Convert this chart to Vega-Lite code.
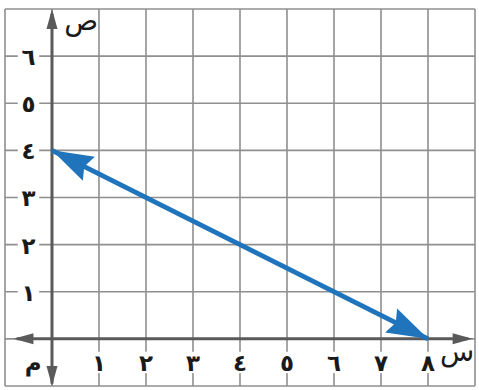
{
  "$schema": "https://vega.github.io/schema/vega-lite/v6.json",
  "width": 479,
  "height": 390,
  "autosize": {"type": "fit", "contains": "padding"},
  "padding": 0,
  "background": "white",
  "config": {"view": {"stroke": null}},
  "datasets": {
    "grid": [
      {"x": -1, "x2": -1, "y": -1, "y2": 7},
      {"x": 0, "x2": 0, "y": -1, "y2": 7},
      {"x": 1, "x2": 1, "y": -1, "y2": 7},
      {"x": 2, "x2": 2, "y": -1, "y2": 7},
      {"x": 3, "x2": 3, "y": -1, "y2": 7},
      {"x": 4, "x2": 4, "y": -1, "y2": 7},
      {"x": 5, "x2": 5, "y": -1, "y2": 7},
      {"x": 6, "x2": 6, "y": -1, "y2": 7},
      {"x": 7, "x2": 7, "y": -1, "y2": 7},
      {"x": 8, "x2": 8, "y": -1, "y2": 7},
      {"x": 9, "x2": 9, "y": -1, "y2": 7},
      {"x": -1, "x2": 9, "y": -1, "y2": -1},
      {"x": -1, "x2": 9, "y": 0, "y2": 0},
      {"x": -1, "x2": 9, "y": 1, "y2": 1},
      {"x": -1, "x2": 9, "y": 2, "y2": 2},
      {"x": -1, "x2": 9, "y": 3, "y2": 3},
      {"x": -1, "x2": 9, "y": 4, "y2": 4},
      {"x": -1, "x2": 9, "y": 5, "y2": 5},
      {"x": -1, "x2": 9, "y": 6, "y2": 6},
      {"x": -1, "x2": 9, "y": 7, "y2": 7}
    ],
    "labels": [
      {"x": -0.5, "y": 1, "t": "١"},
      {"x": -0.5, "y": 2, "t": "٢"},
      {"x": -0.5, "y": 3, "t": "٣"},
      {"x": -0.5, "y": 4, "t": "٤"},
      {"x": -0.5, "y": 5, "t": "٥"},
      {"x": -0.5, "y": 6, "t": "٦"},
      {"x": -0.4, "y": -0.5, "t": "م"},
      {"x": 1, "y": -0.5, "t": "١"},
      {"x": 2, "y": -0.5, "t": "٢"},
      {"x": 3, "y": -0.5, "t": "٣"},
      {"x": 4, "y": -0.5, "t": "٤"},
      {"x": 5, "y": -0.5, "t": "٥"},
      {"x": 6, "y": -0.5, "t": "٦"},
      {"x": 7, "y": -0.5, "t": "٧"},
      {"x": 8, "y": -0.5, "t": "٨"}
    ],
    "axes": [
      {"x": -0.75, "x2": 8.85, "y": 0, "y2": 0},
      {"x": 0, "x2": 0, "y": -0.95, "y2": 6.9}
    ],
    "axisArrows": [
      {"x": -0.82, "y": 0, "a": 180},
      {"x": 8.95, "y": 0, "a": 0},
      {"x": 0, "y": 7.0, "a": 270},
      {"x": 0, "y": -1.0, "a": 90}
    ],
    "line": [
      {"x": 0, "y": 4},
      {"x": 8, "y": 0}
    ],
    "lineArrows": [
      {"x": 0, "y": 4, "a": 206.6},
      {"x": 8, "y": 0, "a": 26.6}
    ],
    "names": [
      {"x": 0.62, "y": 6.72, "t": "ص"},
      {"x": 8.62, "y": -0.3, "t": "س"}
    ]
  },
  "encoding": {
    "x": {"field": "x", "type": "quantitative", "scale": {"domain": [-1.106, 9.085], "nice": false, "zero": false}, "axis": null},
    "y": {"field": "y", "type": "quantitative", "scale": {"domain": [-1.085, 7.191], "nice": false, "zero": false}, "axis": null}
  },
  "layer": [
    {
      "data": {"name": "grid"},
      "mark": {"type": "rule", "color": "#8f8f8f", "strokeWidth": 1.6},
      "encoding": {"x2": {"field": "x2"}, "y2": {"field": "y2"}}
    },
    {
      "data": {"name": "labels"},
      "mark": {"type": "point", "shape": "square", "filled": true, "color": "white", "opacity": 1, "size": 460},
      "encoding": {}
    },
    {
      "data": {"name": "labels"},
      "mark": {"type": "text", "font": "DejaVu Sans", "fontSize": 23, "fontWeight": "bold", "color": "#1a1a1a", "baseline": "middle", "align": "center", "dy": 2},
      "encoding": {"text": {"field": "t"}}
    },
    {
      "data": {"name": "axes"},
      "mark": {"type": "rule", "color": "#5a5a5a", "strokeWidth": 3},
      "encoding": {"x2": {"field": "x2"}, "y2": {"field": "y2"}}
    },
    {
      "data": {"name": "axisArrows"},
      "mark": {"type": "point", "shape": "M0,0 L-2,-0.55 L-2,0.55 Z", "filled": true, "color": "#5a5a5a", "opacity": 1, "size": 400},
      "encoding": {"angle": {"field": "a", "type": "quantitative", "scale": null}}
    },
    {
      "data": {"name": "line"},
      "mark": {"type": "line", "color": "#1f74bb", "strokeWidth": 5},
      "encoding": {}
    },
    {
      "data": {"name": "lineArrows"},
      "mark": {"type": "point", "shape": "M0,0 L-2,-0.65 L-1.75,0 L-2,0.65 Z", "filled": true, "color": "#1f74bb", "opacity": 1, "size": 1700},
      "encoding": {"angle": {"field": "a", "type": "quantitative", "scale": null}}
    },
    {
      "data": {"name": "names"},
      "mark": {"type": "text", "font": "DejaVu Sans", "fontSize": 28, "color": "#1a1a1a", "baseline": "middle", "align": "center"},
      "encoding": {"text": {"field": "t"}}
    }
  ]
}
